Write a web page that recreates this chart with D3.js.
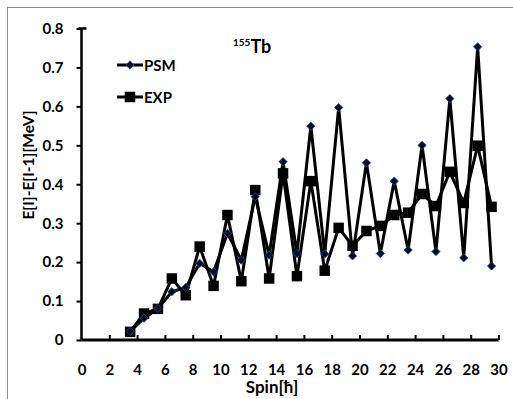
<!DOCTYPE html>
<html>
<head>
<meta charset="utf-8">
<script src="https://cdn.jsdelivr.net/npm/d3@7"></script>
<style>
  body { margin: 0; background: #fff; }
  svg { display: block; font-family: Lato, "Open Sans", sans-serif; }
</style>
</head>
<body>
<svg id="chart" width="513" height="399"></svg>
<script>
// spin values (half-integer)
var spins = [3.5,4.5,5.5,6.5,7.5,8.5,9.5,10.5,11.5,12.5,13.5,14.5,15.5,16.5,17.5,18.5,19.5,20.5,21.5,22.5,23.5,24.5,25.5,26.5,27.5,28.5,29.5];
var psm = [0.022,0.056,0.081,0.124,0.135,0.197,0.175,0.274,0.205,0.368,0.218,0.458,0.222,0.549,0.221,0.597,0.216,0.455,0.222,0.408,0.231,0.500,0.227,0.620,0.211,0.753,0.190];
var exp = [0.021,0.068,0.080,0.158,0.115,0.240,0.139,0.321,0.151,0.385,0.158,0.428,0.164,0.408,0.178,0.288,0.242,0.280,0.293,0.321,0.327,0.375,0.344,0.432,0.352,0.499,0.342];
var xTicks = [0,2,4,6,8,10,12,14,16,18,20,22,24,26,28,30];
var yTicks = [0,0.1,0.2,0.3,0.4,0.5,0.6,0.7,0.8];

var svg = d3.select('#chart');

// chart area border
svg.append('rect')
    .attr('x', 7.5).attr('y', 7.5)
    .attr('width', 520).attr('height', 400)
    .attr('fill', 'none').attr('stroke', '#8c8c8c').attr('stroke-width', 1);

var plotL = 81.5, plotR = 498.5, plotT = 28.5, plotB = 340;

var x = d3.scaleLinear().domain([0, 30]).range([plotL, plotR]);
var y = d3.scaleLinear().domain([0, 0.8]).range([plotB, plotT]);

// y axis
var yAxis = svg.append('g')
    .attr('transform', 'translate(' + plotL + ',0)')
    .call(d3.axisLeft(y).tickValues(yTicks).tickSize(5).tickPadding(13)
        .tickFormat(function(d) { return d === 0 ? '0' : d3.format('.1f')(d); }));
yAxis.select('.domain').attr('stroke', '#000').attr('stroke-width', 2.5)
    .attr('fill', 'none')
    .attr('d', 'M-3,' + plotT + 'H5M0,' + plotT + 'V' + plotB);
yAxis.selectAll('.tick line').attr('stroke', '#000').attr('stroke-width', 2);
yAxis.selectAll('.tick text')
    .attr('font-size', 15).attr('font-weight', 'bold').attr('fill', '#000')
    .attr('font-family', 'Lato, sans-serif');

// x axis (ticks point inward)
var xAxis = svg.append('g')
    .attr('transform', 'translate(0,' + plotB + ')')
    .call(d3.axisBottom(x).tickValues(xTicks).tickSize(-5).tickPadding(24));
xAxis.select('.domain').attr('stroke', '#000').attr('stroke-width', 3)
    .attr('d', 'M' + plotL + ',0H' + plotR);
xAxis.selectAll('.tick line').attr('stroke', '#000').attr('stroke-width', 2);
xAxis.selectAll('.tick text')
    .attr('font-size', 15).attr('font-weight', 'bold').attr('fill', '#000')
    .attr('font-family', 'Lato, sans-serif');
xAxis.selectAll('.tick').filter(function(d) { return d === 0; }).select('line').remove();

// axis titles
svg.append('text')
    .attr('x', 272).attr('y', 393)
    .attr('text-anchor', 'middle')
    .attr('font-size', 17).attr('font-weight', 'bold')
    .text('Spin[ħ]');

svg.append('text')
    .attr('transform', 'translate(34,165) rotate(-90)')
    .attr('text-anchor', 'middle')
    .attr('font-size', 15.5).attr('font-weight', 'bold')
    .text('E[I]-E[I-1][MeV]');

// nucleus label
var lbl = svg.append('text')
    .attr('x', 233).attr('y', 53)
    .attr('font-weight', 'bold');
lbl.append('tspan').attr('font-size', 10).attr('dy', -7).text('155');
lbl.append('tspan').attr('font-size', 18).attr('dy', 7).text('Tb');

var line = d3.line()
    .x(function(d) { return x(d[0]); })
    .y(function(d) { return y(d[1]); });

var psmData = spins.map(function(s, i) { return [s, psm[i]]; });
var expData = spins.map(function(s, i) { return [s, exp[i]]; });

svg.append('path').datum(expData)
    .attr('d', line).attr('fill', 'none')
    .attr('stroke', '#000').attr('stroke-width', 3).attr('stroke-linejoin', 'round');

svg.append('path').datum(psmData)
    .attr('d', line).attr('fill', 'none')
    .attr('stroke', '#000').attr('stroke-width', 3).attr('stroke-linejoin', 'round');

var square = d3.symbol().type(d3.symbolSquare).size(110);
var diamond = d3.symbol().type(d3.symbolSquare).size(34);

svg.selectAll('.exp-pt').data(expData).enter().append('path')
    .attr('class', 'exp-pt')
    .attr('transform', function(d) { return 'translate(' + x(d[0]) + ',' + y(d[1]) + ')'; })
    .attr('d', square).attr('fill', '#000');

svg.selectAll('.psm-pt').data(psmData).enter().append('path')
    .attr('class', 'psm-pt')
    .attr('transform', function(d) { return 'translate(' + x(d[0]) + ',' + y(d[1]) + ') rotate(45)'; })
    .attr('d', diamond).attr('fill', '#0b0b1e').attr('stroke', '#2a4a80').attr('stroke-width', 0.8);

// legend
var legend = [
    { name: 'PSM', sym: diamond, y: 65, rot: 45, fill: '#0b0b1e', stroke: '#2a4a80' },
    { name: 'EXP', sym: square, y: 97, rot: 0, fill: '#000', stroke: 'none' }
];
var lg = svg.selectAll('.legend').data(legend).enter().append('g')
    .attr('transform', function(d) { return 'translate(117,' + d.y + ')'; });
lg.append('line').attr('x1', 0).attr('x2', 26)
    .attr('stroke', '#000').attr('stroke-width', 3);
lg.append('path')
    .attr('transform', function(d) { return 'translate(13,0) rotate(' + d.rot + ')'; })
    .attr('d', function(d) { return d.sym(); })
    .attr('fill', function(d) { return d.fill; })
    .attr('stroke', function(d) { return d.stroke; }).attr('stroke-width', 0.8);
lg.append('text').attr('x', 27).attr('y', 5.5)
    .attr('font-size', 15).attr('font-weight', 'bold')
    .text(function(d) { return d.name; });
</script>
</body>
</html>
